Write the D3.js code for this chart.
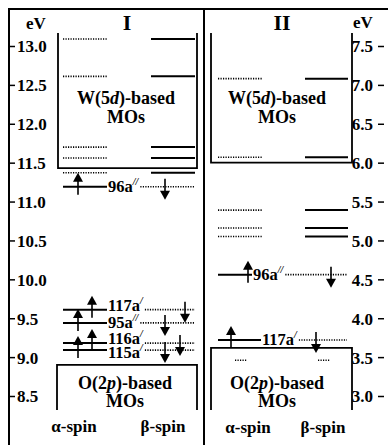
<!DOCTYPE html>
<html><head><meta charset="utf-8">
<script src="https://cdn.jsdelivr.net/npm/d3@7"></script>
<style>
body{margin:0;background:#fff}
svg text{font-family:"Liberation Serif","Times New Roman",serif !important;font-weight:700;fill:#000}
</style>
</head><body><svg id="c" width="388" height="445"></svg>
<script>
// ---- data ----
const ticksI = [13.0,12.5,12.0,11.5,11.0,10.5,10.0,9.5,9.0,8.5];
const ticksII = [7.5,7.0,6.5,6.0,5.5,5.0,4.5,4.0,3.5,3.0];
const wLevelsI = [13.09,12.61,11.70,11.56,11.37];
const wLevelsII = [7.08,6.07,5.39,5.16,5.05];
const somoNamesI = ["96a","117a","95a","116a","115a"];
const somoPrimesI = ["//","/","//","/","/"];
const somoI = [11.19,9.61,9.44,9.18,9.09];
const somoNamesII = ["96a","117a"];
const somoPrimesII = ["//","/"];
const somoII = [4.56,3.72];
const oInnerII = [3.46];
const boxEdgesI = {wBottom:11.43, oTop:8.90};
const boxEdgesII = {wBottom:6.0, oTop:3.62};

// ---- layout ----
const svg = d3.select("#c");
const yI = d3.scaleLinear().domain([13.0,8.5]).range([46,396]);
const yII = d3.scaleLinear().domain([7.5,3.0]).range([46,396]);

function hline(x1,x2,y,dotted){
  svg.append("line").attr("x1",x1).attr("x2",x2).attr("y1",y).attr("y2",y)
    .attr("stroke","#000")
    .attr("stroke-width",dotted?1.6:2)
    .attr("stroke-dasharray",dotted?"1.2,1.3":null);
}
function upArrow(x,y0){
  svg.append("line").attr("x1",x).attr("x2",x).attr("y1",y0-7).attr("y2",y0+8)
    .attr("stroke","#000").attr("stroke-width",1.6);
  svg.append("path").attr("d",`M${x-5},${y0-5}L${x},${y0-14}L${x+5},${y0-5}Z`).attr("fill","#000");
}
function downArrow(x,y0){
  svg.append("line").attr("x1",x).attr("x2",x).attr("y1",y0-8).attr("y2",y0+5)
    .attr("stroke","#000").attr("stroke-width",1.6);
  svg.append("path").attr("d",`M${x-5},${y0+4}L${x},${y0+13}L${x+5},${y0+4}Z`).attr("fill","#000");
}
function label(x,y,name,prime,dy){
  const t = svg.append("text").attr("x",x).attr("y",y+5+(dy||0)).attr("font-size",16.5);
  t.append("tspan").text(name);
  t.append("tspan").attr("font-size",10).attr("dy",-7).attr("font-style","italic").text(prime);
  return x + t.node().getComputedTextLength();
}
function txt(x,y,s,size,anchor){
  return svg.append("text").attr("x",x).attr("y",y).attr("font-size",size)
    .attr("text-anchor",anchor||"middle").text(s);
}

// outer frame and divider
svg.append("rect").attr("x",9).attr("y",9).attr("width",420).attr("height",460)
  .attr("fill","none").attr("stroke","#000").attr("stroke-width",2);
svg.append("line").attr("x1",204).attr("x2",204).attr("y1",9).attr("y2",445)
  .attr("stroke","#000").attr("stroke-width",2);

// axes
const axL = d3.axisRight(yI).tickValues(ticksI).tickSize(6).tickPadding(2).tickFormat(d3.format(".1f"));
const gL = svg.append("g").attr("transform","translate(9,0)").call(axL);
const axR = d3.axisLeft(yII).tickValues(ticksII).tickSize(6).tickPadding(5).tickFormat(d3.format(".1f"));
const gR = svg.append("g").attr("transform","translate(384,0)").call(axR);
[gL,gR].forEach(g=>{
  g.attr("font-family",null).attr("font-size",null);
  g.select(".domain").remove();
  g.selectAll(".tick line").attr("stroke-width",1.5);
  g.selectAll(".tick text").attr("font-size",17).attr("dy","0.35em");
});

// headers
txt(36,29,"eV",17);
txt(363,28,"eV",17);
txt(127,30,"I",22);
txt(282,30,"II",22);

// boxes
function box(d){ svg.append("path").attr("d",d).attr("fill","none").attr("stroke","#000").attr("stroke-width",1.8); }
box(`M58,33V${yI(boxEdgesI.wBottom)}H197V33`);
box(`M211,33V${yII(boxEdgesII.wBottom)}H352V33`);
box(`M57,410V${yI(boxEdgesI.oTop)}H197V410`);
box(`M211,410V${yII(boxEdgesII.oTop)}H352V410`);

// box texts
function wText(cx){
  const t = svg.append("text").attr("x",cx).attr("y",104).attr("font-size",18).attr("text-anchor","middle");
  t.append("tspan").text("W(5");
  t.append("tspan").attr("font-style","italic").text("d");
  t.append("tspan").text(")-based");
  txt(cx,123,"MOs",18);
}
function oText(cx){
  const t = svg.append("text").attr("x",cx).attr("y",389).attr("font-size",18).attr("text-anchor","middle");
  t.append("tspan").text("O(2");
  t.append("tspan").attr("font-style","italic").text("p");
  t.append("tspan").text(")-based");
  txt(cx,407,"MOs",18);
}
wText(126); wText(277);
oText(125); oText(277);
txt(74,432,"α-spin",17); txt(163,432,"β-spin",17);
txt(248,433,"α-spin",17); txt(323,433,"β-spin",17);

// W levels: alpha dotted, beta solid
wLevelsI.forEach(e=>{ hline(63,107,yI(e),true); hline(151,195,yI(e),false); });
wLevelsII.forEach(e=>{ hline(218,262,yII(e),true); hline(305,348,yII(e),false); });

// panel I SOMOs
const aArrowI = [78,92,78,92,78];
const bArrowI = [165,185,165,180,165];
const labShiftI = [0,-4,0,-4,3];
somoI.forEach((e,i)=>{
  const y = yI(e);
  hline(63,107,y,false);
  const end = label(108,y,somoNamesI[i],somoPrimesI[i],labShiftI[i]);
  hline(end+2,195,y,true);
  upArrow(aArrowI[i],y);
  downArrow(bArrowI[i],y);
});

// panel II SOMOs
const aEndII = [252,261];
const aArrowII = [248,231];
const bArrowII = [331,316];
somoII.forEach((e,i)=>{
  const y = yII(e);
  hline(218,aEndII[i],y,false);
  const end = label(aEndII[i]+1,y,somoNamesII[i],somoPrimesII[i],0);
  hline(end+2,347,y,true);
  upArrow(aArrowII[i],y);
  downArrow(bArrowII[i],y);
});
oInnerII.forEach(e=>{ hline(235,247,yII(e),true); hline(318,330,yII(e),true); });
</script>
</body></html>
